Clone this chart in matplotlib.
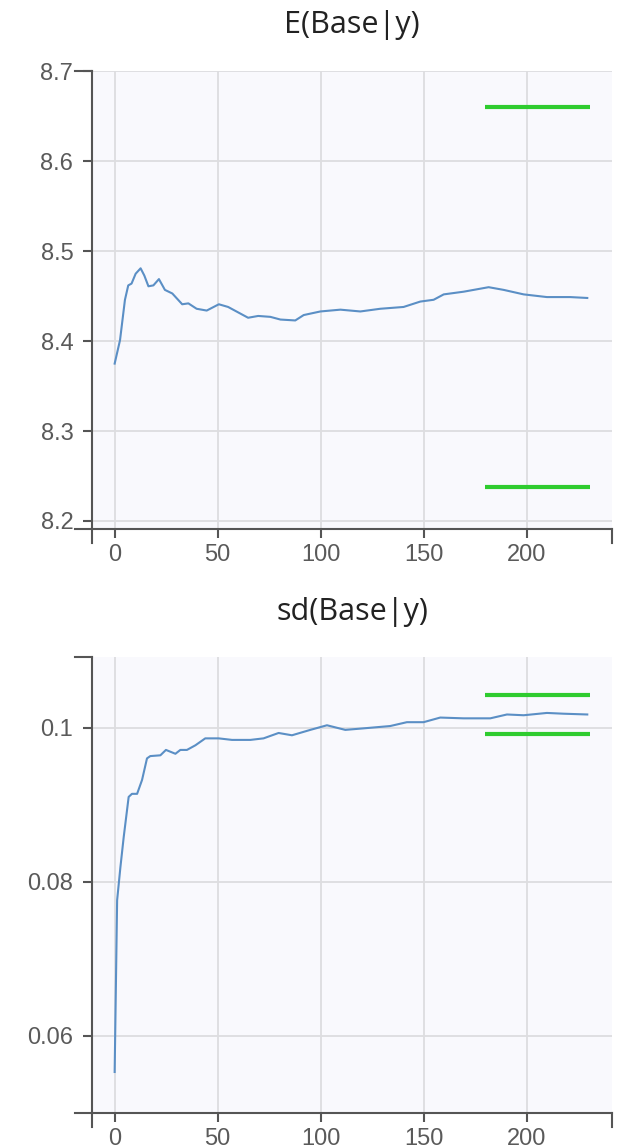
import numpy as np
import matplotlib
matplotlib.use('Agg')
import matplotlib.pyplot as plt

# running estimate of E(Base|y)
e_x = [0, 2.6, 5.0, 6.6, 8.2, 10.2, 12.6, 14.4, 16.4, 18.8, 21.5, 24.4, 28, 32.8,
       35.8, 39.8, 44.7, 50.6, 55.1, 64.8, 69.7, 75.6, 80.5, 87.7, 91.8, 99.9,
       109.6, 119.3, 129, 140.3, 148.4, 154.9, 159.8, 169.5, 181.6, 188.9, 198.6,
       209.9, 221.2, 229.5]
e_y = [8.375, 8.401, 8.446, 8.462, 8.464, 8.475, 8.481, 8.473, 8.461, 8.462,
       8.469, 8.457, 8.453, 8.441, 8.442, 8.436, 8.434, 8.441, 8.438, 8.426,
       8.428, 8.427, 8.424, 8.423, 8.429, 8.433, 8.435, 8.433, 8.436, 8.438,
       8.444, 8.446, 8.452, 8.455, 8.460, 8.457, 8.452, 8.449, 8.449, 8.448]

# running estimate of sd(Base|y)
sd_x = [0, 1.2, 2.8, 4.4, 6.8, 8.4, 10.9, 13.3, 15.7, 17.3, 22.2, 24.9, 29.5,
        31.9, 35.1, 39.2, 44.0, 50.5, 57, 65.9, 72.3, 79.6, 86.1, 95, 103.1, 112,
        120.9, 133.8, 141.9, 150, 158.1, 169.4, 182.4, 190.5, 198.6, 209.9, 218,
        229.5]
sd_y = [0.0553, 0.0776, 0.0819, 0.0858, 0.0910, 0.0914, 0.0914, 0.0932, 0.0960,
        0.0963, 0.0964, 0.0971, 0.0966, 0.0971, 0.0971, 0.0977, 0.0986, 0.0986,
        0.0984, 0.0984, 0.0986, 0.0993, 0.0990, 0.0997, 0.1003, 0.0997, 0.0999,
        0.1002, 0.1007, 0.1007, 0.1013, 0.1012, 0.1012, 0.1017, 0.1016, 0.1019,
        0.1018, 0.1017]

# green reference bands (lower, upper)
band_x = [180, 231]
e_band = [8.238, 8.660]
sd_band = [0.09922, 0.10419]

x_ticks = [0, 50, 100, 150, 200]
e_ticks = [8.2, 8.3, 8.4, 8.5, 8.6, 8.7]
e_labels = ['8.2', '8.3', '8.4', '8.5', '8.6', '8.7']
sd_ticks = [0.06, 0.08, 0.1]
sd_labels = ['0.06', '0.08', '0.1']

BG = '#f9f9fd'
GRID = '#dddde0'
AXC = '#555555'
LINE = '#5b8fc5'
GREEN = '#2fcc2f'


def panel(ax, xs, ys, band, title, yticks, ylabels, ylim):
    ax.set_facecolor(BG)
    ax.plot(xs, ys, color=LINE, lw=1.5, zorder=3)
    for b in band:
        ax.plot(band_x, [b, b], color=GREEN, lw=3, solid_capstyle='butt', zorder=3)
    ax.set_xlim(-11, 241.5)
    ax.set_ylim(*ylim)
    ax.set_xticks(x_ticks)
    ax.set_yticks(yticks)
    ax.set_yticklabels(ylabels)
    ax.grid(True, color=GRID, lw=1.3, zorder=0)
    ax.set_axisbelow(True)
    for s in ['top', 'right']:
        ax.spines[s].set_visible(False)
    for s in ['left', 'bottom']:
        ax.spines[s].set_color(AXC)
        ax.spines[s].set_linewidth(1.5)
    ax.tick_params(direction='out', length=6.5, width=1.5, color=AXC,
                   labelcolor='#5a5a5a', labelsize=17, pad=7)
    ax.tick_params(axis='x', pad=4)
    for lab in ax.get_xticklabels() + ax.get_yticklabels():
        lab.set_family('Liberation Sans')
    # d3-style outer ticks at the axis ends
    tr = ax.transAxes
    ax.plot([-0.032, 0], [1, 1], color=AXC, lw=1.5, transform=tr, clip_on=False)
    ax.plot([-0.032, 0], [0, 0], color=AXC, lw=1.5, transform=tr, clip_on=False)
    ax.plot([0, 0], [0, -0.03], color=AXC, lw=1.5, transform=tr, clip_on=False)
    ax.plot([1, 1], [0, -0.03], color=AXC, lw=1.5, transform=tr, clip_on=False)
    ax.set_title(title, fontsize=22, family='Open Sans', color='#222222', pad=27)


fig = plt.figure(figsize=(6.28, 11.47), dpi=100)
ax1 = fig.add_axes([0.1465, 0.5388, 0.828, 0.3993])
ax2 = fig.add_axes([0.1465, 0.0296, 0.828, 0.3976])

panel(ax1, e_x, e_y, e_band, 'E(Base|y)', e_ticks, e_labels, (8.191, 8.7005))
panel(ax2, sd_x, sd_y, sd_band, 'sd(Base|y)', sd_ticks, sd_labels, (0.04997, 0.10916))

fig.savefig('out.png', dpi=100)
